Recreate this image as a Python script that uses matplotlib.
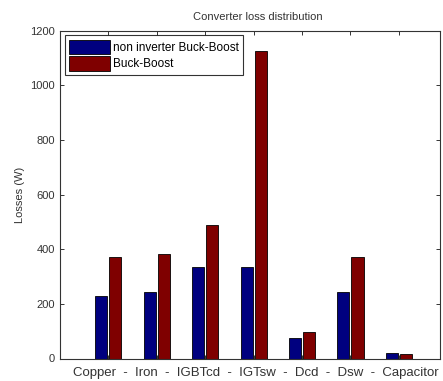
import matplotlib
matplotlib.use("Agg")
import matplotlib.pyplot as plt
import numpy as np

# datos
categorias = ["Copper", "Iron", "IGBTcd", "IGTsw", "Dcd", "Dsw", "Capacitor"]
non_inverter = [230, 242, 335, 335, 76, 242, 20]
buck_boost = [370, 383, 489, 1124, 97, 370, 16]
series = ["non inverter Buck-Boost", "Buck-Boost"]

plt.rcParams['font.family'] = ['Liberation Sans', 'DejaVu Sans']

fig = plt.figure(figsize=(4.43, 3.81), dpi=100)
ax = fig.add_axes([60 / 443, 1 - 358.5 / 381, 380 / 443, 327.8 / 381])

x = np.arange(1, len(categorias) + 1)
ancho = 0.25
ax.bar(x - 0.145, non_inverter, ancho, color="#00007F", edgecolor="black", linewidth=0.6, label=series[0])
ax.bar(x + 0.145, buck_boost, ancho, color="#7F0000", edgecolor="black", linewidth=0.6, label=series[1])

ax.set_xlim(0, 7.85)
ax.set_ylim(0, 1200)
ax.set_xticks(x)
ax.set_xticklabels([""] * len(x))
ax.set_yticks(np.arange(0, 1201, 200))
ax.tick_params(direction="in", length=3, top=True, right=True, labelsize=8, colors="#333333", width=0.7)
for s in ax.spines.values():
    s.set_color("#333333")
    s.set_linewidth(0.8)

ax.set_title("Converter loss distribution", fontsize=8, color="#333333", pad=8, x=0.52)
ax.set_ylabel("Losses (W)", fontsize=8, color="#333333", labelpad=4)

# etiquetas del eje x como un solo texto
texto_x = "  -  ".join(categorias)
ax.text(0.515, -0.025, texto_x, transform=ax.transAxes, ha="center", va="top", fontsize=9.5, color="#333333")

leg = ax.legend(loc="upper left", fontsize=8.5, frameon=True, fancybox=False, edgecolor="black",
                handlelength=3.5, handleheight=1.5, handletextpad=0.2, borderpad=0.35,
                labelspacing=0.2, borderaxespad=0.4)
leg.get_frame().set_linewidth(0.8)

fig.savefig("out.png", dpi=100)
